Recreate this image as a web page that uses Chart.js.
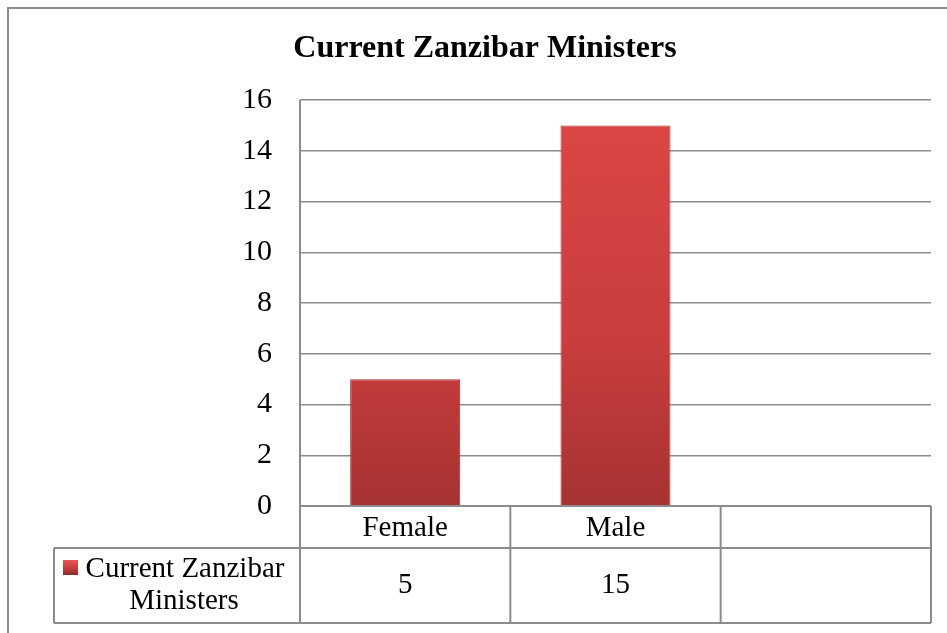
<!DOCTYPE html>
<html>
<head>
<meta charset="utf-8">
<script src="https://cdn.jsdelivr.net/npm/chart.js@4.4.1/dist/chart.umd.min.js"></script>
<style>
  html, body { margin: 0; padding: 0; background: #fff; }
  #wrap { width: 947px; height: 633px; position: relative; }
</style>
</head>
<body>
<div id="wrap"><canvas id="chart" width="947" height="633"></canvas></div>
<script>
// data
const chartTitle = 'Current Zanzibar Ministers';
const categories = ['Female', 'Male', ''];
const seriesName = ['Current Zanzibar', 'Ministers'];
const values = [5, 15, null];
const yMax = 16;
const yStep = 2;

const FONT = '"Liberation Serif", "Times New Roman", serif';
const LINE = '#8c8c8c';

// frame, title and the data table under the axis
const tablePlugin = {
  id: 'tablePlugin',
  beforeDraw(chart) {
    const c = chart.ctx;
    c.save();
    c.fillStyle = '#fff';
    c.fillRect(0, 0, chart.width, chart.height);
    c.strokeStyle = LINE;
    c.lineWidth = 2;
    c.strokeRect(8, 8, 1200, 1200);
    c.fillStyle = '#000';
    c.font = 'bold 32px ' + FONT;
    c.textAlign = 'center';
    c.textBaseline = 'alphabetic';
    c.fillText(chartTitle, 485, 57);
    c.restore();
  },
  afterDraw(chart) {
    const c = chart.ctx;
    const area = chart.chartArea;
    const x = chart.scales.x;
    const top = area.bottom;
    const mid = top + 42;
    const bot = top + 117;
    const legLeft = 54;
    const half = (x.getPixelForValue(1) - x.getPixelForValue(0)) / 2;

    c.save();
    c.strokeStyle = LINE;
    c.lineWidth = 2;
    c.beginPath();
    // horizontal rules
    c.moveTo(area.left, top); c.lineTo(area.right, top);
    c.moveTo(legLeft, mid); c.lineTo(area.right, mid);
    c.moveTo(legLeft, bot); c.lineTo(area.right, bot);
    // verticals
    c.moveTo(legLeft, mid); c.lineTo(legLeft, bot);
    c.moveTo(area.left, area.top); c.lineTo(area.left, bot);
    categories.forEach((cat, i) => {
      const r = x.getPixelForValue(i) + half;
      c.moveTo(r, top); c.lineTo(r, bot);
    });
    c.stroke();

    c.fillStyle = '#000';
    c.font = '29px ' + FONT;
    c.textAlign = 'center';
    c.textBaseline = 'middle';
    categories.forEach((cat, i) => {
      const cx = x.getPixelForValue(i);
      c.fillText(cat, cx, (top + mid) / 2 + 1);
      if (values[i] !== null) c.fillText(String(values[i]), cx, (mid + bot) / 2);
    });

    // legend key + series name
    const kx = 63, ky = mid + 12, ks = 15;
    const g = c.createLinearGradient(0, ky, 0, ky + ks);
    g.addColorStop(0, '#e85656');
    g.addColorStop(0.5, '#c94040');
    g.addColorStop(1, '#8f2828');
    c.fillStyle = g;
    c.fillRect(kx, ky, ks, ks);
    c.fillStyle = '#000';
    c.fillText(seriesName[0], 185, mid + 21);
    c.fillText(seriesName[1], 184, mid + 53);
    c.restore();
  }
};

function barFill(ctx) {
  const chart = ctx.chart;
  const a = chart.chartArea;
  if (!a) return '#c83c3c';
  const g = chart.ctx.createLinearGradient(0, a.top, 0, a.bottom);
  g.addColorStop(0, '#dd4646');
  g.addColorStop(0.6, '#c93d3d');
  g.addColorStop(1, '#a63232');
  return g;
}

new Chart(document.getElementById('chart'), {
  type: 'bar',
  data: {
    labels: categories,
    datasets: [{
      label: seriesName.join(' '),
      data: values,
      backgroundColor: barFill,
      borderColor: '#a83030',
      borderWidth: 1,
      barPercentage: 0.523,
      categoryPercentage: 1
    }]
  },
  plugins: [tablePlugin],
  options: {
    responsive: false,
    animation: false,
    devicePixelRatio: 1,
    layout: { padding: { top: 100, right: 16, bottom: 127, left: 0 } },
    plugins: {
      legend: { display: false },
      title: { display: false },
      tooltip: { enabled: false }
    },
    scales: {
      x: {
        display: false
      },
      y: {
        min: 0,
        max: yMax,
        afterFit(scale) { scale.width = 300; },
        ticks: {
          stepSize: yStep,
          padding: 28,
          color: '#000',
          font: { family: FONT, size: 30 }
        },
        grid: { color: LINE, lineWidth: 1.5, drawTicks: false },
        border: { display: false }
      }
    }
  }
});
</script>
</body>
</html>
